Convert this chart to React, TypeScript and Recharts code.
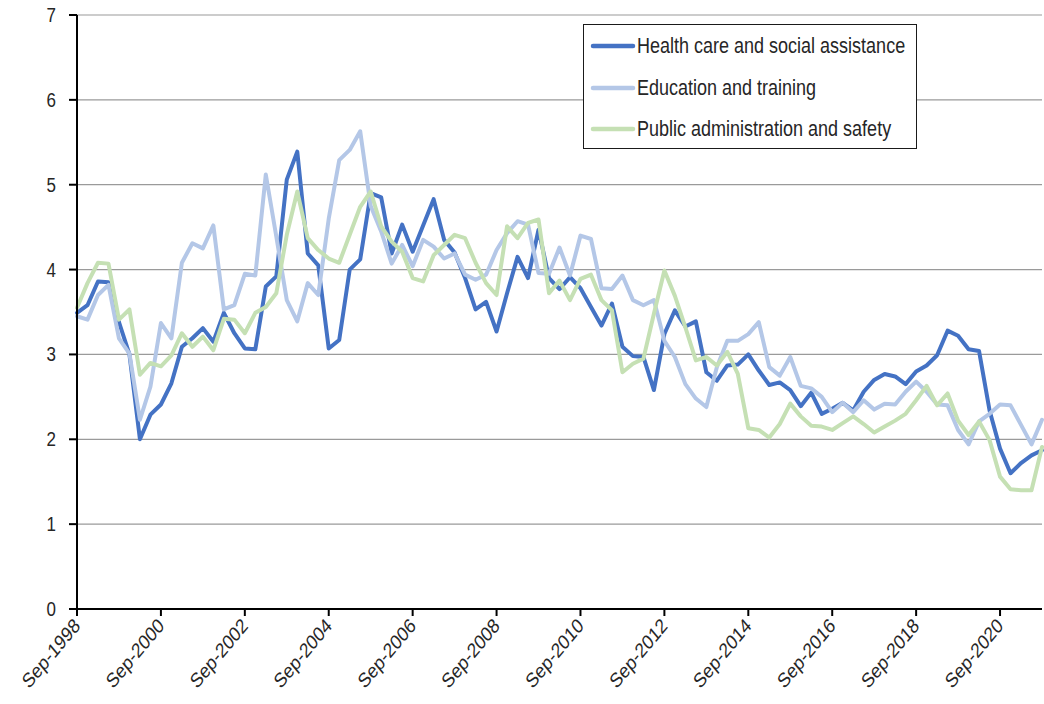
import React from 'react';
import { LineChart, Line, XAxis, YAxis, CartesianGrid, Legend } from 'recharts';

const quarters = [
  'Sep-1998', 'Dec-1998',
  'Mar-1999', 'Jun-1999', 'Sep-1999', 'Dec-1999',
  'Mar-2000', 'Jun-2000', 'Sep-2000', 'Dec-2000',
  'Mar-2001', 'Jun-2001', 'Sep-2001', 'Dec-2001',
  'Mar-2002', 'Jun-2002', 'Sep-2002', 'Dec-2002',
  'Mar-2003', 'Jun-2003', 'Sep-2003', 'Dec-2003',
  'Mar-2004', 'Jun-2004', 'Sep-2004', 'Dec-2004',
  'Mar-2005', 'Jun-2005', 'Sep-2005', 'Dec-2005',
  'Mar-2006', 'Jun-2006', 'Sep-2006', 'Dec-2006',
  'Mar-2007', 'Jun-2007', 'Sep-2007', 'Dec-2007',
  'Mar-2008', 'Jun-2008', 'Sep-2008', 'Dec-2008',
  'Mar-2009', 'Jun-2009', 'Sep-2009', 'Dec-2009',
  'Mar-2010', 'Jun-2010', 'Sep-2010', 'Dec-2010',
  'Mar-2011', 'Jun-2011', 'Sep-2011', 'Dec-2011',
  'Mar-2012', 'Jun-2012', 'Sep-2012', 'Dec-2012',
  'Mar-2013', 'Jun-2013', 'Sep-2013', 'Dec-2013',
  'Mar-2014', 'Jun-2014', 'Sep-2014', 'Dec-2014',
  'Mar-2015', 'Jun-2015', 'Sep-2015', 'Dec-2015',
  'Mar-2016', 'Jun-2016', 'Sep-2016', 'Dec-2016',
  'Mar-2017', 'Jun-2017', 'Sep-2017', 'Dec-2017',
  'Mar-2018', 'Jun-2018', 'Sep-2018', 'Dec-2018',
  'Mar-2019', 'Jun-2019', 'Sep-2019', 'Dec-2019',
  'Mar-2020', 'Jun-2020', 'Sep-2020', 'Dec-2020',
  'Mar-2021', 'Jun-2021', 'Sep-2021',
];

const health = [
  3.49, 3.58, 3.86, 3.85, 3.38, 3.0, 2.0, 2.29, 2.41, 2.66,
  3.09, 3.19, 3.31, 3.15, 3.49, 3.25, 3.07, 3.06, 3.8, 3.92,
  5.06, 5.39, 4.19, 4.05, 3.07, 3.17, 4.0, 4.12, 4.9, 4.85,
  4.19, 4.53, 4.21, 4.52, 4.83, 4.35, 4.2, 3.9, 3.53, 3.62,
  3.27, 3.72, 4.15, 3.9, 4.47, 3.9, 3.77, 3.91, 3.78, 3.56,
  3.34, 3.6, 3.09, 2.98, 2.97, 2.58, 3.24, 3.52, 3.33, 3.39,
  2.79, 2.69, 2.87, 2.88, 3.0, 2.81, 2.64, 2.67, 2.58, 2.39,
  2.55, 2.3, 2.36, 2.43, 2.34, 2.56, 2.7, 2.77, 2.74, 2.65,
  2.8, 2.87, 2.99, 3.28, 3.22, 3.06, 3.04, 2.34, 1.89, 1.6,
  1.72, 1.81, 1.87,
];

const education = [
  3.45, 3.41, 3.7, 3.82, 3.19, 3.01, 2.23, 2.62, 3.37, 3.19,
  4.08, 4.31, 4.25, 4.52, 3.53, 3.58, 3.95, 3.93, 5.12, 4.39,
  3.64, 3.39, 3.84, 3.7, 4.6, 5.29, 5.41, 5.63, 4.75, 4.45,
  4.07, 4.29, 4.04, 4.35, 4.27, 4.13, 4.19, 3.94, 3.88, 3.94,
  4.23, 4.43, 4.57, 4.53, 3.96, 3.95, 4.26, 3.93, 4.4, 4.36,
  3.78, 3.77, 3.93, 3.64, 3.58, 3.64, 3.16, 2.97, 2.65, 2.48,
  2.38, 2.85, 3.16, 3.16, 3.24, 3.38, 2.85, 2.75, 2.97, 2.63,
  2.6, 2.5, 2.32, 2.43, 2.32, 2.46, 2.35, 2.42, 2.41, 2.56,
  2.68, 2.56, 2.41, 2.4, 2.11, 1.94, 2.21, 2.3, 2.41, 2.4,
  2.17, 1.94, 2.23,
];

const publicAdmin = [
  3.55, 3.84, 4.08, 4.07, 3.41, 3.53, 2.76, 2.9, 2.86, 2.99,
  3.25, 3.09, 3.21, 3.05, 3.42, 3.41, 3.25, 3.49, 3.56, 3.72,
  4.41, 4.92, 4.37, 4.23, 4.13, 4.08, 4.41, 4.74, 4.92, 4.51,
  4.33, 4.21, 3.9, 3.86, 4.17, 4.29, 4.41, 4.37, 4.08, 3.84,
  3.7, 4.51, 4.37, 4.55, 4.59, 3.72, 3.87, 3.64, 3.89, 3.94,
  3.64, 3.52, 2.79, 2.89, 2.95, 3.48, 3.99, 3.69, 3.32, 2.93,
  2.97, 2.87, 3.03, 2.77, 2.13, 2.11, 2.02, 2.18, 2.42, 2.27,
  2.16, 2.15, 2.11, 2.19, 2.27, 2.18, 2.08, 2.15, 2.22, 2.3,
  2.46, 2.63, 2.4, 2.54, 2.22, 2.05, 2.21, 1.99, 1.56, 1.41,
  1.4, 1.4, 1.91,
];

const xTicks = [
  'Sep-1998', 'Sep-2000', 'Sep-2002', 'Sep-2004', 'Sep-2006', 'Sep-2008',
  'Sep-2010', 'Sep-2012', 'Sep-2014', 'Sep-2016', 'Sep-2018', 'Sep-2020',
];
const yTicks = [0, 1, 2, 3, 4, 5, 6, 7];

const seriesNames = [
  'Health care and social assistance',
  'Education and training',
  'Public administration and safety',
];
const seriesKeys = ['health', 'education', 'publicAdmin'];
const seriesColors = ['#4472C4', '#B4C7E7', '#C5E0B4'];

const data = quarters.map((q, i) => ({
  q,
  health: health[i],
  education: education[i],
  publicAdmin: publicAdmin[i],
}));

const FONT = '"Liberation Sans", Arial, sans-serif';
const TEXT = '#262626';

function XTick(props: any) {
  const { x, y, payload } = props;
  return (
    <g transform={`translate(${x},${y})`}>
      <text
        x={0}
        y={0}
        textAnchor="end"
        dominantBaseline="central"
        transform="scale(1,1.2) rotate(-45)"
        fill={TEXT}
        fontSize={17}
        fontFamily={FONT}
      >
        {payload.value}
      </text>
    </g>
  );
}

function YTick(props: any) {
  const { x, y, payload } = props;
  return (
    <g transform={`translate(${x},${y})`}>
      <text
        x={0}
        y={0}
        textAnchor="end"
        dominantBaseline="central"
        transform="scale(1,1.15)"
        fill={TEXT}
        fontSize={17}
        fontFamily={FONT}
      >
        {payload.value}
      </text>
    </g>
  );
}

function LegendBox() {
  return (
    <div
      style={{
        position: 'relative',
        width: 334,
        height: 125,
        boxSizing: 'border-box',
        border: '1.5px solid #1a1a1a',
        background: '#fff',
        fontFamily: FONT,
      }}
    >
      {seriesNames.map((name, i) => (
        <div key={name}>
          <svg
            style={{ position: 'absolute', left: 6, top: 21 + i * 41.5 - 5 }}
            width={46}
            height={10}
          >
            <line
              x1={3}
              y1={5}
              x2={43}
              y2={5}
              stroke={seriesColors[i]}
              strokeWidth={4.5}
              strokeLinecap="round"
            />
          </svg>
          <span
            style={{
              position: 'absolute',
              left: 53,
              top: 21 + i * 41.5 - 11,
              fontSize: 18,
              lineHeight: '22px',
              color: TEXT,
              whiteSpace: 'nowrap',
              transform: 'scale(1, 1.2)',
              transformOrigin: '0 50%',
            }}
          >
            {name}
          </span>
        </div>
      ))}
    </div>
  );
}

export default function App() {
  return (
    <div
      style={{
        position: 'absolute',
        left: 0,
        top: 0,
        width: 1044,
        height: 704,
        background: '#fff',
      }}
    >
      <LineChart
        width={1044}
        height={704}
        data={data}
        margin={{ top: 15, right: 2, bottom: 0, left: 0 }}
        style={{ fontFamily: FONT }}
      >
        <CartesianGrid
          horizontal={true}
          vertical={false}
          stroke="#9a9a9a"
          strokeWidth={1.2}
        />
        <XAxis
          dataKey="q"
          type="category"
          scale="point"
          padding={{ left: 0, right: 0 }}
          ticks={xTicks}
          interval={0}
          height={95}
          tick={<XTick />}
          tickSize={7}
          tickMargin={6}
          axisLine={{ stroke: '#000', strokeWidth: 2 }}
          tickLine={{ stroke: '#000', strokeWidth: 2 }}
        />
        <YAxis
          type="number"
          domain={[0, 7]}
          ticks={yTicks}
          interval={0}
          width={77}
          tickSize={8}
          tickMargin={13}
          tick={<YTick />}
          axisLine={{ stroke: '#000', strokeWidth: 2 }}
          tickLine={{ stroke: '#000', strokeWidth: 2 }}
        />
        <Legend
          layout="vertical"
          align="center"
          verticalAlign="middle"
          content={() => <LegendBox />}
          wrapperStyle={{ left: 583, top: 24, width: 334, height: 125 }}
        />
        {seriesKeys.map((k, i) => (
          <Line
            key={k}
            type="linear"
            dataKey={k}
            name={seriesNames[i]}
            stroke={seriesColors[i]}
            strokeWidth={4}
            strokeLinejoin="round"
            strokeLinecap="round"
            dot={false}
            activeDot={false}
            isAnimationActive={false}
          />
        ))}
      </LineChart>
    </div>
  );
}
